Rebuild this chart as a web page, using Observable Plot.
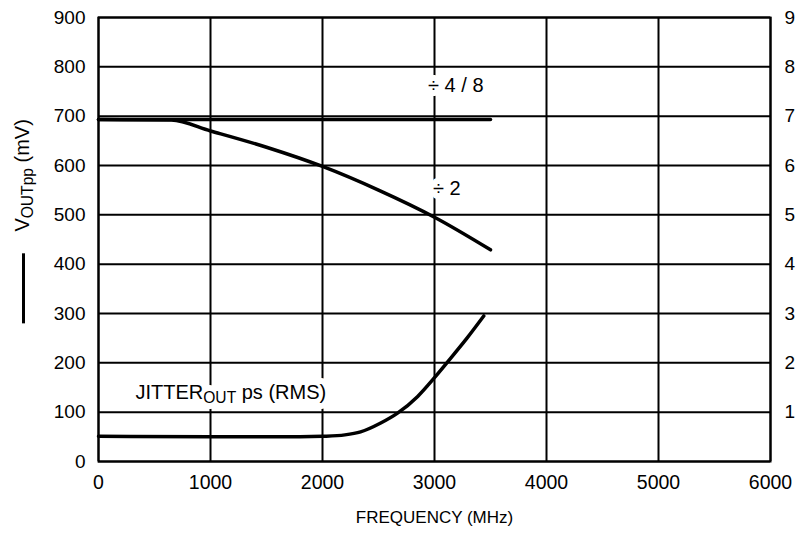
<!DOCTYPE html>
<html><head><meta charset="utf-8">
<script src="https://cdn.jsdelivr.net/npm/d3@7"></script>
<script src="https://cdn.jsdelivr.net/npm/@observablehq/plot@0.6"></script>
<style>body{margin:0;background:#fff}</style>
</head><body><div id="chart"></div>
<script>
// ---- data ----
const freqDiv48 = [0, 3500];
const voutDiv48 = [693, 693];
const freqDiv2 = [0, 650, 1000, 1500, 2000, 2500, 3000, 3500];
const voutDiv2 = [693, 692, 670, 637, 598, 550, 495, 429];
const freqJitter = [0, 1000, 1800, 2000, 2200, 2340, 2520, 2670, 2850, 3000, 3110, 3290, 3440];
const jitterPs = [0.51, 0.50, 0.50, 0.51, 0.54, 0.60, 0.78, 0.98, 1.32, 1.70, 2.00, 2.50, 2.95];
const xTicks = [0, 1000, 2000, 3000, 4000, 5000, 6000];
const yTicks = [0, 100, 200, 300, 400, 500, 600, 700, 800, 900];
const rightTicks = [1, 2, 3, 4, 5, 6, 7, 8, 9];
const centerNotes = [
  {f: 3190, v: 762, text: "÷ 4 / 8"},
  {f: 3110, v: 554, text: "÷ 2"}
];
const startNotes = [
  {f: 330, v: 140, text: "JITTER{OUT} ps (RMS)"}
];
const yLabel = [{f: 0, v: 580, text: "V{OUTpp} (mV)"}];
const legendSample = [{f: 0, v1: 279, v2: 421}];
const xTitle = "FREQUENCY (MHz)";

const div48 = freqDiv48.map((f, i) => ({f, v: voutDiv48[i]}));
const div2 = freqDiv2.map((f, i) => ({f, v: voutDiv2[i]}));
const jit = freqJitter.map((f, i) => ({f, v: jitterPs[i] * 100}));

const FONT = "Liberation Sans, Arial, sans-serif";
const halo = {fill: "white", stroke: "white", strokeWidth: 12, fontSize: 20};
const ink = {fill: "black", fontSize: 20};

const plot = Plot.plot({
  width: 799,
  height: 536,
  marginTop: 17,
  marginBottom: 75,
  marginLeft: 98,
  marginRight: 29,
  style: {fontFamily: FONT, fontSize: "19px", background: "white", color: "black"},
  x: {domain: [0, 6000]},
  y: {domain: [0, 900]},
  marks: [
    Plot.gridX(xTicks, {stroke: "black", strokeOpacity: 1, strokeWidth: 2}),
    Plot.gridY(yTicks, {stroke: "black", strokeOpacity: 1, strokeWidth: 2}),
    Plot.frame({stroke: "black", strokeWidth: 2}),
    Plot.axisX(xTicks, {tickSize: 0, tickPadding: 14, fontSize: 19.5, label: null, tickFormat: d => String(d)}),
    Plot.axisY(yTicks, {tickSize: 0, tickPadding: 13, fontSize: 19, label: null, tickFormat: d => String(d)}),
    Plot.axisY(rightTicks.map(d => d * 100), {anchor: "right", tickSize: 0, tickPadding: 14, fontSize: 19, label: null, tickFormat: d => String(d / 100)}),
    Plot.text(centerNotes, {x: "f", y: "v", text: "text", ...halo}),
    Plot.text(startNotes, {x: "f", y: "v", text: "text", textAnchor: "start", ...halo}),
    Plot.text(centerNotes, {x: "f", y: "v", text: "text", ...ink}),
    Plot.text(startNotes, {x: "f", y: "v", text: "text", textAnchor: "start", ...ink}),
    Plot.line(div48, {x: "f", y: "v", stroke: "black", strokeWidth: 3.5, strokeLinecap: "round"}),
    Plot.line(div2, {x: "f", y: "v", stroke: "black", strokeWidth: 3.5, strokeLinecap: "round", curve: "monotone-x"}),
    Plot.line(jit, {x: "f", y: "v", stroke: "black", strokeWidth: 3.5, strokeLinecap: "round", curve: "monotone-x"}),
    Plot.text(yLabel, {x: "f", y: "v", text: "text", rotate: -90, dx: -76, fontSize: 20, fill: "black"}),
    Plot.ruleX(legendSample, {x: "f", y1: "v1", y2: "v2", dx: -75, stroke: "black", strokeWidth: 3}),
    Plot.text([xTitle], {frameAnchor: "bottom", text: d => d, dy: 61, fontSize: 17, fill: "black"})
  ]
});

// subscripts: {…} parts become lowered, smaller tspans
d3.select(plot).selectAll("text").each(function () {
  const t = this.textContent;
  if (!t.includes("{")) return;
  const parts = t.split(/(\{[^}]*\})/).filter(s => s);
  const sel = d3.select(this);
  sel.text(null);
  let sub = false;
  for (const p of parts) {
    if (p.startsWith("{")) {
      sel.append("tspan").attr("font-size", "0.78em").attr("dy", 4).text(p.slice(1, -1));
      sub = true;
    } else {
      const ts = sel.append("tspan").text(p);
      if (sub) { ts.attr("dy", -4); sub = false; }
    }
  }
});

document.getElementById("chart").append(plot);
</script>
</body></html>
